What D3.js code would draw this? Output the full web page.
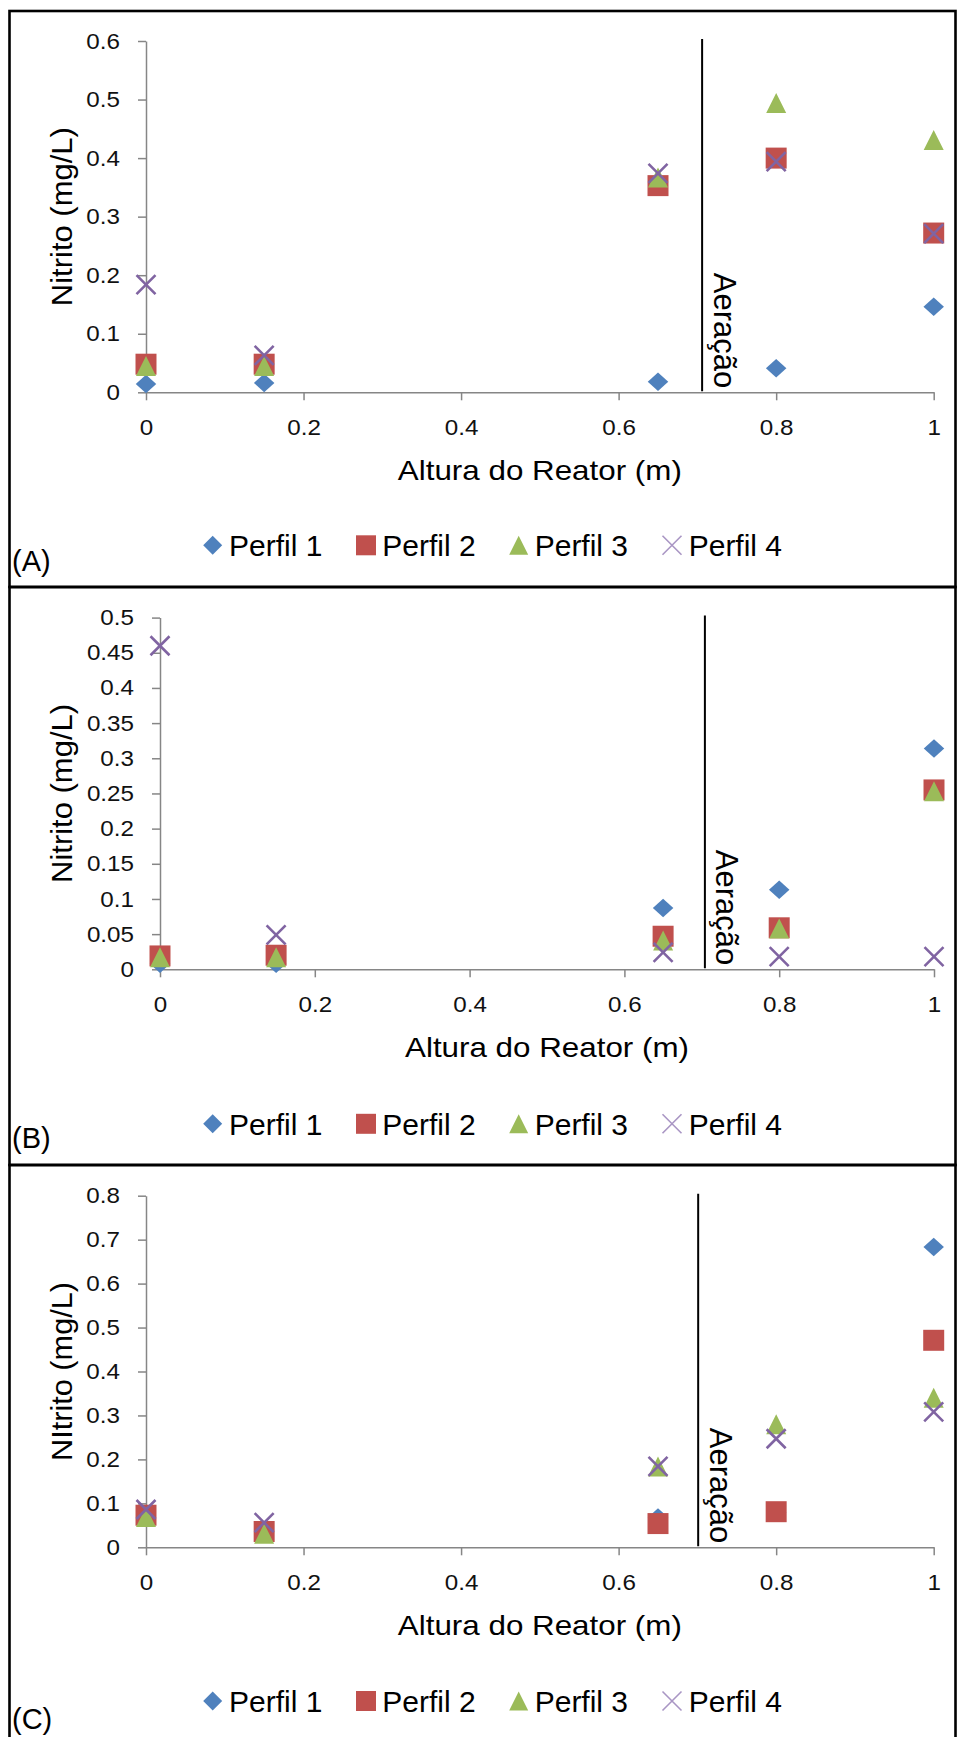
<!DOCTYPE html>
<html>
<head>
<meta charset="utf-8">
<script src="https://cdn.jsdelivr.net/npm/d3@7"></script>
<style>
  html, body { margin: 0; padding: 0; background: #fff; }
  svg { display: block; }
</style>
</head>
<body>
<script>
// ---------------- DATA ----------------
const xValues = [0, 0.15, 0.65, 0.8, 1];
const seriesNames = ["Perfil 1", "Perfil 2", "Perfil 3", "Perfil 4"];
const xTicks = [0, 0.2, 0.4, 0.6, 0.8, 1];
const xTitle = "Altura do Reator (m)";
const aerationLabel = "Aeração";

// Panel A
const aPerfil1 = [0.014, 0.016, 0.018, 0.041, 0.146];
const aPerfil2 = [0.048, 0.048, 0.353, 0.400, 0.272];
const aPerfil3 = [0.045, 0.045, 0.367, 0.494, 0.431];
const aPerfil4 = [0.184, 0.063, 0.374, 0.394, 0.271];
const aYTicks = [0, 0.1, 0.2, 0.3, 0.4, 0.5, 0.6];

// Panel B
const bPerfil1 = [0.008, 0.008, 0.087, 0.113, 0.314];
const bPerfil2 = [0.019, 0.020, 0.047, 0.059, 0.255];
const bPerfil3 = [0.017, 0.017, 0.041, 0.058, 0.253];
const bPerfil4 = [0.460, 0.049, 0.024, 0.018, 0.018];
const bYTicks = [0, 0.05, 0.1, 0.15, 0.2, 0.25, 0.3, 0.35, 0.4, 0.45, 0.5];

// Panel C
const cPerfil1 = [0.068, 0.035, 0.068, 0.080, 0.683];
const cPerfil2 = [0.073, 0.036, 0.054, 0.081, 0.471];
const cPerfil3 = [0.069, 0.031, 0.184, 0.280, 0.340];
const cPerfil4 = [0.086, 0.056, 0.184, 0.247, 0.308];
const cYTicks = [0, 0.1, 0.2, 0.3, 0.4, 0.5, 0.6, 0.7, 0.8];

const panelLabels = ["(A)", "(B)", "(C)"];
const yTitles = ["Nitrito (mg/L)", "Nitrito (mg/L)", "NItrito (mg/L)"];
const aerationX = [0.706, 0.704, 0.701];

// ---------------- STYLE / LAYOUT ----------------
const FONT = "'Liberation Sans', Arial, Helvetica, sans-serif";
const colors = ["#4F81BD", "#C0504D", "#9BBB59", "#8064A2"];
const shapes = ["diamond", "square", "triangle", "x"];
const axisColor = "#868686";

const layouts = [
  { top: 11,   bottom: 587,  x0: 146, x1: 933.7, yTop: 41,     yBot: 392.3,  legendY: 545.3,  labelY: 571 },
  { top: 587,  bottom: 1165, x0: 160, x1: 934,   yTop: 617.6,  yBot: 969.3,  legendY: 1123.8, labelY: 1148 },
  { top: 1165, bottom: 1770, x0: 146, x1: 933.7, yTop: 1195.7, yBot: 1547.3, legendY: 1701,   labelY: 1729 }
];

const panels = [
  { series: [aPerfil1, aPerfil2, aPerfil3, aPerfil4], yTicks: aYTicks },
  { series: [bPerfil1, bPerfil2, bPerfil3, bPerfil4], yTicks: bYTicks },
  { series: [cPerfil1, cPerfil2, cPerfil3, cPerfil4], yTicks: cYTicks }
];

const legendMarkerX = [212.7, 366, 518.7, 672];
const legendTextX = [229, 382.3, 534.7, 688.7];

function markerPath(type, w, h) {
  const a = w / 2, b = h / 2;
  if (type === "diamond") return `M0,${-b}L${a},0L0,${b}L${-a},0Z`;
  if (type === "square") return `M${-a},${-b}H${a}V${b}H${-a}Z`;
  if (type === "triangle") return `M0,${-b}L${a},${b}L${-a},${b}Z`;
  return `M${-a},${-b}L${a},${b}M${a},${-b}L${-a},${b}`;
}
const plotSize = { diamond: [20.5, 18.5], square: [21, 21], triangle: [20, 20], x: [19, 19] };
const legendSize = { diamond: [19, 19], square: [20, 20], triangle: [19, 19], x: [19, 19] };

function styleMarker(sel, i, legend) {
  if (shapes[i] === "x") {
    sel.attr("fill", "none")
       .attr("stroke", legend ? "#A996C4" : colors[i])
       .attr("stroke-width", legend ? 1.6 : 2.6);
  } else {
    sel.attr("fill", colors[i]);
  }
}

const svg = d3.select("body").append("svg")
  .attr("width", 957).attr("height", 1737)
  .style("font-family", FONT);
svg.append("rect").attr("width", 957).attr("height", 1737).attr("fill", "#fff");

panels.forEach((P, pi) => {
  const L = layouts[pi];
  const g = svg.append("g");

  // border
  g.append("rect")
    .attr("x", 9.5).attr("y", L.top)
    .attr("width", 946).attr("height", L.bottom - L.top)
    .attr("fill", "none").attr("stroke", "#000").attr("stroke-width", 2.6);

  const yMax = P.yTicks[P.yTicks.length - 1];
  const x = d3.scaleLinear().domain([0, 1]).range([L.x0, L.x1]);
  const y = d3.scaleLinear().domain([0, yMax]).range([L.yBot, L.yTop]);
  const fmt = d3.format("~g");

  // axes
  const gx = g.append("g").attr("transform", `translate(0,${L.yBot})`)
    .call(d3.axisBottom(x).tickValues(xTicks).tickFormat(fmt)
      .tickSize(8).tickSizeOuter(0).tickPadding(19));
  const gy = g.append("g").attr("transform", `translate(${L.x0},0)`)
    .call(d3.axisLeft(y).tickValues(P.yTicks).tickFormat(fmt)
      .tickSize(8).tickSizeOuter(0).tickPadding(18));
  [gx, gy].forEach(ax => {
    ax.select(".domain").attr("stroke", axisColor).attr("stroke-width", 1.5);
    ax.selectAll(".tick line").attr("stroke", axisColor).attr("stroke-width", 1.5);
    ax.selectAll(".tick text").attr("font-size", 22).attr("font-family", FONT).attr("fill", "#111")
      .each(function () {
        const w = this.getComputedTextLength();
        d3.select(this).attr("textLength", w * 1.1).attr("lengthAdjust", "spacingAndGlyphs");
      });
  });

  // aeration line + label
  const ax = x(aerationX[pi]);
  g.append("line")
    .attr("x1", ax).attr("x2", ax)
    .attr("y1", L.yTop - 2).attr("y2", L.yBot - 1)
    .attr("stroke", "#000").attr("stroke-width", 2);
  g.append("text")
    .attr("transform", `translate(${ax + 11.5},${L.yBot - 4}) rotate(90)`)
    .attr("text-anchor", "end")
    .attr("font-size", 31)
    .attr("fill", "#000")
    .text(aerationLabel);

  // markers (series 1 first, series 4 on top)
  P.series.forEach((vals, si) => {
    const sz = plotSize[shapes[si]];
    const pts = g.append("g").selectAll("path")
      .data(xValues.map((xv, k) => ({ xv, yv: vals[k] })))
      .join("path")
      .attr("transform", d => `translate(${x(d.xv)},${y(d.yv)})`)
      .attr("d", markerPath(shapes[si], sz[0], sz[1]));
    styleMarker(pts, si, false);
  });

  // axis titles
  g.append("text")
    .attr("transform", `translate(72,${(L.yTop + L.yBot) / 2}) rotate(-90)`)
    .attr("text-anchor", "middle")
    .attr("font-size", 29)
    .attr("textLength", 179).attr("lengthAdjust", "spacingAndGlyphs")
    .attr("fill", "#000")
    .text(yTitles[pi]);
  const xtW = 284;
  g.append("text")
    .attr("x", (L.x0 + L.x1) / 2 - xtW / 2).attr("y", L.yBot + 88)
    .attr("font-size", 28.5)
    .attr("textLength", xtW).attr("lengthAdjust", "spacingAndGlyphs")
    .attr("fill", "#000")
    .text(xTitle);

  // legend
  seriesNames.forEach((name, si) => {
    const sz = legendSize[shapes[si]];
    const m = g.append("path")
      .attr("transform", `translate(${legendMarkerX[si]},${L.legendY})`)
      .attr("d", markerPath(shapes[si], sz[0], sz[1]));
    styleMarker(m, si, true);
    g.append("text")
      .attr("x", legendTextX[si]).attr("y", L.legendY + 10.8)
      .attr("font-size", 30).attr("fill", "#000")
      .text(name);
  });

  // panel label
  g.append("text")
    .attr("x", 12).attr("y", L.labelY)
    .attr("font-size", 29).attr("fill", "#000")
    .text(panelLabels[pi]);
});
</script>
</body>
</html>
